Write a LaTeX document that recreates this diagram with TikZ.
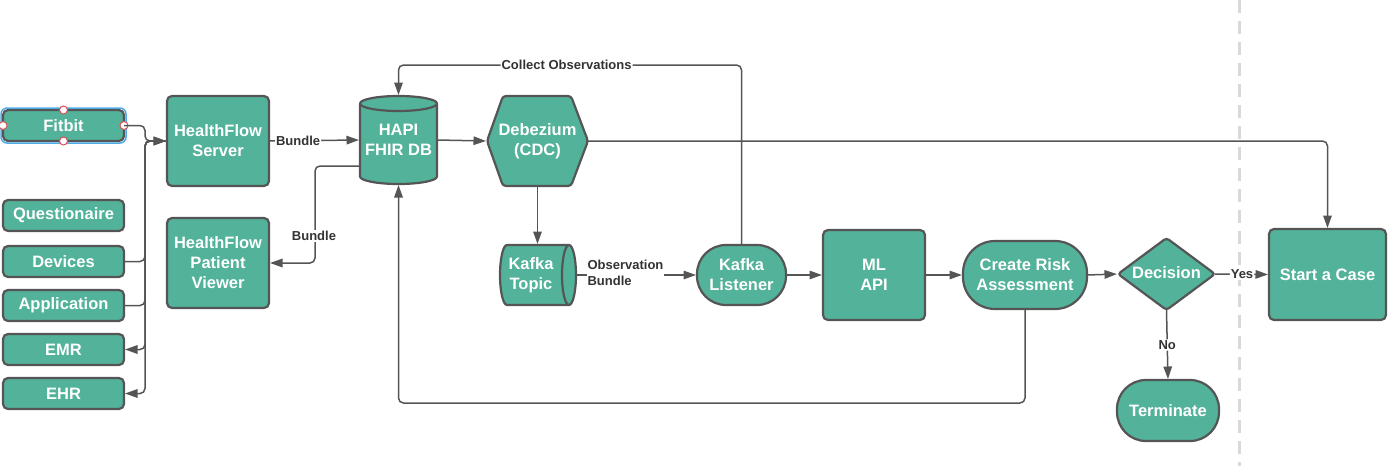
\documentclass[tikz,border=0pt]{standalone}
\usepackage{fontspec}
\setmainfont{Liberation Sans}
\usetikzlibrary{arrows.meta,shapes.geometric,backgrounds,calc}
\definecolor{tealfill}{RGB}{82,178,154}
\definecolor{edgegray}{RGB}{85,85,85}
\definecolor{linegray}{RGB}{85,85,85}
\definecolor{labgray}{RGB}{51,51,51}
\definecolor{dashgray}{RGB}{217,217,217}
\definecolor{selblue}{RGB}{80,170,230}
\definecolor{handlered}{RGB}{220,80,90}
\tikzset{
 base/.style={outer sep=0pt, inner sep=0pt, text=white, font=\fontsize{16.5}{20}\selectfont\bfseries, align=center},
 box/.style={base, draw=edgegray, fill=tealfill, line width=2.2pt, rounded corners=5pt},
 smallbox/.style={box, minimum width=121pt, minimum height=31pt},
 bigbox/.style={box, minimum width=102pt, minimum height=90pt},
 shapefill/.style={fill=tealfill},
 shapeline/.style={draw=edgegray, line width=2.2pt, line join=round},
 conn/.style={draw=linegray, line width=1.5pt, rounded corners=5pt, shorten >=1pt, -{Triangle[length=12.5pt,width=8.5pt]}},
 lab/.style={font=\fontsize{13}{15}\selectfont\bfseries, text=labgray, fill=white, inner sep=1pt},
}
\begin{document}
\begin{tikzpicture}[x=1pt,y=-1pt]
\useasboundingbox (0,0) rectangle (1390,466);

% left column
\node (fit) [smallbox] at (63.5,125.5) {Fitbit};
\node (que) [smallbox] at (63.5,215.5) {Questionaire};
\node (dev) [smallbox] at (63.5,261.5) {Devices};
\node (app) [smallbox] at (63.5,305.5) {Application};
\node (emr) [smallbox] at (63.5,349.5) {EMR};
\node (ehr) [smallbox] at (63.5,393.5) {EHR};

% selection decoration on Fitbit
\draw[selblue, line width=1.5pt, rounded corners=6pt] ($(fit.north west)+(-2,-2)$) rectangle ($(fit.south east)+(2,2)$);
\foreach \a in {north,south,east,west}
  \draw[handlered, fill=white, line width=1pt] (fit.\a) circle[radius=4pt];

\node (hfs) [bigbox] at (218,141) {HealthFlow\\Server};
\node (hpv) [bigbox] at (218,263) {HealthFlow\\Patient\\Viewer};

\node (db) [base, minimum width=77pt, minimum height=88pt] at (398.5,140) {HAPI\\FHIR DB};
\node (deb) [base, minimum width=101pt, minimum height=90pt] at (537.5,141) {Debezium\\(CDC)};
\node (kt) [base, minimum width=62pt, minimum height=60pt] at (531,275) {Kafka\\Topic};
\node (kl) [box, rounded corners=29pt, minimum width=89pt, minimum height=60pt] at (741.5,275) {Kafka\\Listener};
\node (ml) [bigbox] at (874,275) {ML\\API};
\node (cra) [box, rounded corners=32pt, minimum width=124pt, minimum height=68pt] at (1025,275) {Create Risk\\Assessment};
\node (dec) [base, diamond, draw=edgegray, fill=tealfill, line width=2.2pt, rounded corners=3pt, minimum width=97pt, minimum height=72pt, aspect=1.35] at (1166.5,274) {\raisebox{3pt}{Decision}};
\node (term) [box, rounded corners=29pt, minimum width=102pt, minimum height=61pt] at (1168,410.5) {Terminate};
\node (sac) [box, minimum width=117pt, minimum height=91pt] at (1327.5,274.5) {Start a Case};

\begin{scope}[on background layer]
  \draw[dashgray, line width=3pt, dash pattern=on 13pt off 8pt] (1239,0) -- (1239,466);
  % hexagon
  \path[shapefill, shapeline, rounded corners=3pt] (deb.west) -- ($(deb.north west)+(16,0)$) -- ($(deb.north east)+(-17,0)$) -- (deb.east) -- ($(deb.south east)+(-17,0)$) -- ($(deb.south west)+(16,0)$) -- cycle;
  % DB cylinder
  \fill[tealfill] ($(db.north west)+(0,7.5)$) rectangle ($(db.south east)+(0,-7.5)$);
  \fill[tealfill] ($(db.south)+(0,-7.5)$) ellipse [x radius=38.5pt, y radius=7.5pt];
  \draw[shapeline] ($(db.north west)+(0,7.5)$) -- ($(db.south west)+(0,-7.5)$) arc[start angle=180, end angle=360, x radius=38.5pt, y radius=7.5pt] -- ($(db.north east)+(0,7.5)$);
  \path[shapefill, shapeline] ($(db.north)+(0,7.5)$) ellipse [x radius=38.5pt, y radius=7.5pt];
  % Kafka topic cylinder (horizontal)
  \fill[tealfill] ($(kt.north west)+(7,0)$) rectangle ($(kt.south east)+(7,0)$);
  \fill[tealfill] ($(kt.west)+(7,0)$) ellipse [x radius=7pt, y radius=30pt];
  \draw[shapeline] ($(kt.north east)+(7,0)$) -- ($(kt.north west)+(7,0)$) arc[start angle=90, end angle=270, x radius=7pt, y radius=30pt] -- ($(kt.south east)+(7,0)$);
  \path[shapefill, shapeline] ($(kt.east)+(7,0)$) ellipse [x radius=7pt, y radius=30pt];
\end{scope}

% connectors, left bus
\draw[conn] (fit.east) -- (145,125.5) -- (145,141) -- (hfs.west);
\draw[conn] (dev.east) -- (145,261.5) -- (145,141) -- (hfs.west);
\draw[conn] (app.east) -- (145,305.5) -- (145,141) -- (hfs.west);
\draw[conn] (hfs.west) -- (145,141) -- (145,349.5) -- (emr.east);
\draw[conn] (hfs.west) -- (145,141) -- (145,393.5) -- (ehr.east);

\draw[conn] (hfs.east) -- node[lab, pos=0.32] {Bundle} (db.west);
\draw[conn] (db.west |- 0,166) -- (315,166) -- (315,263) -- (hpv.east);
\node (lbund) [lab] at (314,236) {Bundle};

\draw[conn] (kl.north) -- (741.5,65) -- node[lab, pos=0.51] {Collect Observations} (398.5,65) -- (db.north);
\draw[conn] (db.east) -- (deb.west);
\draw[conn] (deb.east) -- (1327.5,141) -- (sac.north);
\draw[conn] (deb.south) -- (deb.south |- kt.north);
\draw[conn] ($(kt.east)+(14,0)$) -- (kl.west);
\node (lobs) [lab, align=left, font=\fontsize{13}{15.5}\selectfont\bfseries] at (625.5,273) {Observation\\Bundle};
\draw[conn] (kl.east) -- (ml.west);
\draw[conn] (ml.east) -- (cra.west);
\draw[conn] (cra.east) -- (dec.west);
\draw[conn] (dec.east) -- node[lab, midway] {Yes} (sac.west);
\draw[conn] (dec.south) -- node[lab, midway] {No} (term.north);
\draw[conn] (cra.south) -- (1025,403) -- (398.5,403) -- (db.south);
\end{tikzpicture}
\end{document}
